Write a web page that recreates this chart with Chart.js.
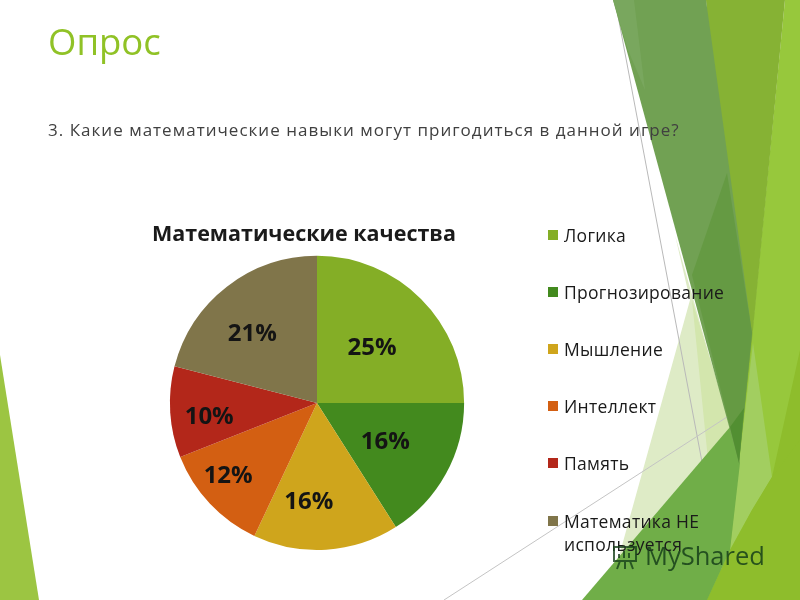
<!DOCTYPE html>
<html lang="ru">
<head>
  <meta charset="UTF-8" />
  <title>Опрос</title>
  <style>
    body { margin: 0; background: #fff; font-family: "Open Sans", sans-serif; }
    #slide { position: relative; width: 800px; height: 600px; overflow: hidden; background: #fff; }
    #facets, #grafico, .txt, #legenda { position: absolute; left: 0; top: 0; }
    h1.txt { left: 48px; top: 15px; margin: 0; font-size: 36.5px; line-height: 52px; font-weight: 400; color: #90c226; }
    p.txt { left: 48px; top: 118px; margin: 0; font-size: 17px; line-height: 24px; color: #404040; letter-spacing: 1.02px; white-space: nowrap; }
    .item { position: absolute; left: 564px; width: 190px; font-size: 17.5px; line-height: 23px; color: #1a1a1a; letter-spacing: 0.3px; }
    .item i { position: absolute; left: -16px; top: 6px; width: 10px; height: 10px; }
    #marca { position: absolute; left: 645px; top: 535px; font-size: 25.5px; line-height: 40px; color: #17401a; opacity: 0.85; white-space: nowrap; }
    #marca-icone { position: absolute; left: 611px; top: 544px; }
  </style>
</head>
<body>
  <div id="slide">
    <svg id="facets" width="800" height="600" viewBox="0 0 800 600">
      <polygon points="785,0 800,0 800,600 700,600 752,333" fill="#97c83c" />
      <polygon points="800,350 800,600 707,600 752,510 772,477" fill="#8ebd2c" />
      <polygon points="706,0 785,0 752,340 739,463" fill="#86b234" />
      <polygon points="675,235 742,470 618,560 690,300" fill="#deebc6" />
      <polygon points="692,300 735,440 712,500" fill="#d3e6ad" />
      <line x1="615" y1="0" x2="728" y2="600" stroke="#b9b9b9" stroke-width="1" />
      <line x1="444" y1="600" x2="727" y2="417" stroke="#c4c4c4" stroke-width="1" />
      <polygon points="753,343 772,477 752,510 730,550 739,463" fill="#a2ce60" />
      <polygon points="772,477 800,440 800,600 707,600 730,550 752,510" fill="#8ebd2c" />
      <polygon points="730,427 740,463 730,550 707,600 582,600" fill="#70ae48" />
      <polygon points="613,0 706,0 752,333 739,463" fill="#71a153" />
      <polygon points="613,0 634,0 645,90 628,50" fill="#79a75e" />
      <polygon points="692,275 727,173 752,333 739,463" fill="#659a43" />
      <polygon points="730,427 744,408 739,463" fill="#528f32" />
      <polygon points="0,355 39,600 0,600" fill="#9cc542" />
    </svg>
    <canvas id="grafico" width="800" height="600"></canvas>
    <h1 class="txt">Опрос</h1>
    <p class="txt">3. Какие математические навыки могут пригодиться в данной игре?</p>
    <div id="legenda"></div>
    <svg id="marca-icone" width="30" height="26" viewBox="0 0 30 26" fill="none" stroke="#17401a" stroke-width="2" opacity="0.8">
      <rect x="3" y="3" width="22" height="14" />
      <path d="M8 14v-4M13 14V7M18 14V9M9 17l-3 8M19 17l3 8M14 17v8" />
    </svg>
    <div id="marca">MyShared</div>
  </div>

  <script src="https://cdn.jsdelivr.net/npm/chart.js"></script>
  <script>
    const categorias = ["Логика", "Прогнозирование", "Мышление", "Интеллект", "Память", "Математика НЕ используется"];
    const valores = [25, 16, 16, 12, 10, 21];
    const cores = ["#84ae26", "#438a1e", "#cfa51c", "#d35f12", "#b3271a", "#80754a"];
    const tituloGrafico = "Математические качества";

    // nudges of the % labels from the slice's default centre
    const ajustes = [[0, 0], [0, 2], [-13, 21], [-32, 20], [-30, 9], [-17, -7]];
    const topoLegenda = [224, 281, 338, 395, 452, 510];

    // draws the 25% style labels on top of the slices
    const rotulos = {
      id: "rotulos",
      afterDatasetsDraw(chart) {
        const ctx = chart.ctx;
        ctx.save();
        ctx.font = "bold 24px 'Open Sans', sans-serif";
        ctx.fillStyle = "#141414";
        ctx.textAlign = "center";
        ctx.textBaseline = "middle";
        chart.getDatasetMeta(0).data.forEach((arco, i) => {
          const meio = (arco.startAngle + arco.endAngle) / 2;
          const r = arco.outerRadius * 0.53;
          const x = arco.x + Math.cos(meio) * r + ajustes[i][0];
          const y = arco.y + Math.sin(meio) * r + ajustes[i][1];
          ctx.fillText(valores[i] + "%", x, y);
        });
        ctx.restore();
      }
    };

    new Chart(document.getElementById("grafico").getContext("2d"), {
      type: "pie",
      data: {
        labels: categorias,
        datasets: [{ data: valores, backgroundColor: cores, borderWidth: 0 }]
      },
      options: {
        responsive: false,
        animation: false,
        layout: { padding: { left: 152, right: 318, top: 222, bottom: 50 } },
        plugins: {
          legend: { display: false },
          tooltip: { enabled: false },
          title: {
            display: true,
            text: tituloGrafico,
            align: "start",
            color: "#1a1a1a",
            font: { family: "'Open Sans', sans-serif", size: 21.5, weight: "bold" },
            padding: { top: 0, bottom: 8 }
          }
        }
      },
      plugins: [rotulos]
    });

    const legenda = document.getElementById("legenda");
    categorias.forEach((nome, i) => {
      const item = document.createElement("div");
      item.className = "item";
      item.style.top = topoLegenda[i] + "px";
      item.innerHTML = `<i style="background:${cores[i]}"></i>${nome}`;
      legenda.appendChild(item);
    });
  </script>
</body>
</html>
